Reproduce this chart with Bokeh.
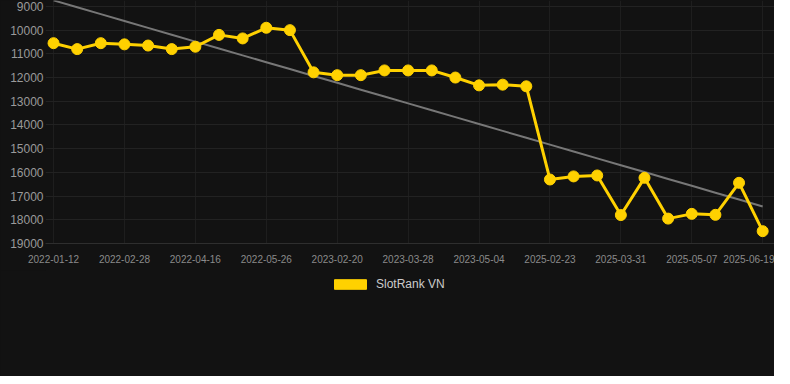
import numpy as np
from bokeh.plotting import figure
from bokeh.layouts import column
from bokeh.models import Range1d, FixedTicker, Legend, LegendItem, ColumnDataSource
from bokeh.embed import file_html
from bokeh.resources import INLINE

dates = ["2022-01-12", "2022-01-28", "2022-02-13", "2022-02-28", "2022-03-15", "2022-03-31",
         "2022-04-16", "2022-04-29", "2022-05-12", "2022-05-26", "2022-06-10", "2023-02-07",
         "2023-02-20", "2023-03-04", "2023-03-16", "2023-03-28", "2023-04-09", "2023-04-21",
         "2023-05-04", "2023-05-16", "2023-05-28", "2025-02-23", "2025-03-08", "2025-03-19",
         "2025-03-31", "2025-04-12", "2025-04-24", "2025-05-07", "2025-05-20", "2025-06-05",
         "2025-06-19"]
ranks = [10550, 10800, 10550, 10600, 10650, 10800, 10700, 10200, 10350, 9900, 10000,
         11780, 11900, 11900, 11700, 11700, 11700, 12000, 12330, 12300, 12370,
         16300, 16170, 16130, 17800, 16230, 17950, 17750, 17790, 16440, 18480]
y_ticks = [9000, 10000, 11000, 12000, 13000, 14000, 15000, 16000, 17000, 18000, 19000]
x_tick_idx = [0, 3, 6, 9, 12, 15, 18, 21, 24, 27, 30]
series_name = "SlotRank VN"

idx = list(range(len(ranks)))
coef = np.polyfit(idx, ranks, 1)
trend = [coef[0] * i + coef[1] for i in idx]

FONT = "Liberation Sans"
BG = "#121212"
YELLOW = "#FFD100"

p = figure(frame_width=729, frame_height=243, output_backend="svg", toolbar_location=None,
           x_range=Range1d(-0.34, 30.5), y_range=Range1d(19000, 8750),
           background_fill_color=BG, border_fill_color=BG, outline_line_color=None,
           min_border_left=45, min_border_top=0, min_border_right=0, min_border_bottom=27)

src = ColumnDataSource(dict(x=idx, y=ranks, t=trend))
p.line("x", "t", source=src, line_color="#777777", line_width=2)
p.line("x", "y", source=src, line_color=YELLOW, line_width=3)
p.scatter("x", "y", source=src, size=11, fill_color=YELLOW, line_color=YELLOW)

p.xaxis.ticker = FixedTicker(ticks=x_tick_idx)
p.xaxis.major_label_overrides = {i: dates[i] for i in x_tick_idx}
p.yaxis.ticker = FixedTicker(ticks=y_ticks)
p.yaxis.major_label_overrides = {v: str(v) for v in y_ticks}

for ax in (p.xaxis, p.yaxis):
    ax.major_tick_line_color = None
    ax.minor_tick_line_color = None
    ax.major_tick_out = 0
    ax.major_tick_in = 0
    ax.major_label_text_font = FONT
p.yaxis.axis_line_color = None
p.xaxis.axis_line_color = "#2e2e2e"
p.yaxis.major_label_text_font_size = "12px"
p.yaxis.major_label_text_color = "#9a9a9a"
p.yaxis.major_label_standoff = 2
p.xaxis.major_label_text_font_size = "10px"
p.xaxis.major_label_text_color = "#8a8a8a"
p.xaxis.major_label_standoff = 11

p.xgrid.grid_line_color = "#1e1e1e"
p.ygrid.grid_line_color = "#222222"

# legend strip below the chart
lg = figure(frame_width=729, frame_height=106, output_backend="svg", toolbar_location=None,
            x_range=Range1d(0, 1), y_range=Range1d(0, 1),
            background_fill_color=BG, border_fill_color=BG, outline_line_color=None,
            min_border_left=45, min_border_right=0, min_border_top=0, min_border_bottom=0)
lg.axis.visible = False
lg.grid.visible = False
dummy = lg.rect(x=[-5], y=[-5], width=0.1, height=0.1, fill_color=YELLOW, line_color=YELLOW)
legend = Legend(items=[LegendItem(label=series_name, renderers=[dummy])],
                orientation="horizontal", location=(285, 85),
                background_fill_alpha=0, border_line_color=None,
                glyph_width=40, glyph_height=12, label_standoff=6,
                label_text_font=FONT, label_text_font_size="12px",
                label_text_color="#cccccc", padding=4, margin=0)
lg.add_layout(legend, "center")

layout = column(p, lg, spacing=0, styles={"background-color": BG})
open("out.html", "w").write(file_html(layout, INLINE))
